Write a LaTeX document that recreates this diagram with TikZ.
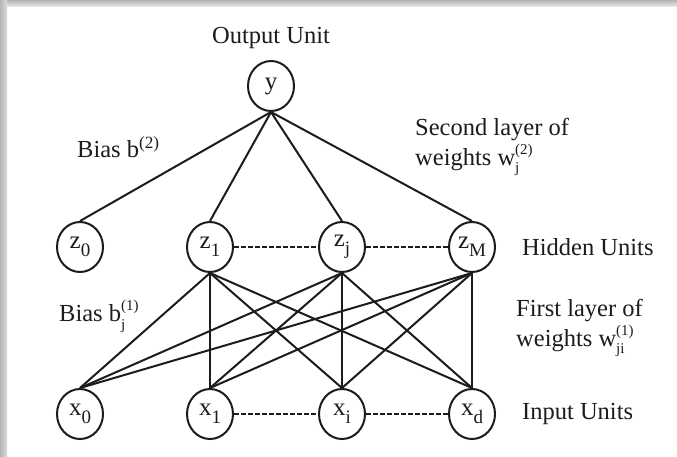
\documentclass[tikz,border=0pt]{standalone}
\usepackage{fontspec}
\setmainfont{Liberation Serif}
\usepackage{xcolor}
\definecolor{NetInk}{HTML}{1C1C1C}
\definecolor{NetShade}{HTML}{B4B4B4}
\usepackage{tikz}
\usetikzlibrary{positioning,shapes.geometric}
\newcommand{\supsub}[2]{\rlap{\raisebox{0.45em}{\fontsize{15}{15}\selectfont #1}}\raisebox{-0.32em}{\fontsize{15}{15}\selectfont #2}}
\newcommand{\nsub}[1]{\raisebox{-0.3em}{\fontsize{19}{19}\selectfont #1}}
\tikzset{
  unit/.style={draw=NetInk,ellipse,line width=2pt,minimum width=46pt,minimum height=50pt,inner sep=0pt,font=\fontsize{25}{28}\selectfont,text=NetInk},
  ntext/.style={font=\fontsize{24.5}{30}\selectfont,align=left,inner sep=0pt,text=NetInk},
  wire/.style={draw=NetInk,line width=2pt},
  dotwire/.style={draw=NetInk,line width=2.2pt,dash pattern=on 4.5pt off 2.5pt}
}

\begin{document}
\begin{tikzpicture}[x=1pt,y=-1pt]
  \useasboundingbox (0,0) rectangle (677,456);
  \fill[white] (0,0) rectangle (677,456);
  \shade[top color=NetShade,bottom color=NetShade!35] (0,0) rectangle (677,6);
  \shade[left color=NetShade,right color=NetShade!45] (0,0) rectangle (7,456);

  \node[unit] (y) at (271,86) {y};
  \node[ntext] (outtxt) at (271,38) {Output Unit};

  \node[unit] (z0) at (80,247) {z\nsub{0}};
  \node[unit,right=82pt of z0] (z1) {z\nsub{1}};
  \node[unit,right=84pt of z1] (zj) {z\nsub{j}};
  \node[unit,right=82pt of zj] (zM) {z\nsub{M}};
  \node[ntext,right=26pt of zM] (hidtxt) {Hidden Units};

  \node[unit,below=115pt of z0] (x0) {x\nsub{0}};
  \node[unit,below=115pt of z1] (x1) {x\nsub{1}};
  \node[unit,below=115pt of zj] (xi) {x\nsub{i}};
  \node[unit,below=115pt of zM] (xd) {x\nsub{d}};
  \node[ntext,right=26pt of xd] (inptxt) {Input Units};

  \node[ntext,anchor=west] (bias2) at (77,147) {Bias b\textsuperscript{(2)}};
  \node[ntext,anchor=west] (w2txt) at (415,147) {Second layer of\\weights w\supsub{(2)}{j}};
  \node[ntext,anchor=west] (bias1) at (59,316) {Bias b\supsub{(1)}{j}};
  \node[ntext,anchor=west] (w1txt) at (516,328) {First layer of\\weights w\supsub{(1)}{ji}};

  \foreach \h in {z0,z1,zj,zM}
    \draw[wire] (y.south) -- (\h.north);
  \foreach \h in {z1,zj,zM}
    \foreach \i in {x0,x1,xi,xd}
      \draw[wire] (\h.south) -- (\i.north);
  \draw[dotwire] (z1) -- (zj);
  \draw[dotwire] (zj) -- (zM);
  \draw[dotwire] (x1) -- (xi);
  \draw[dotwire] (xi) -- (xd);
\end{tikzpicture}
\end{document}
